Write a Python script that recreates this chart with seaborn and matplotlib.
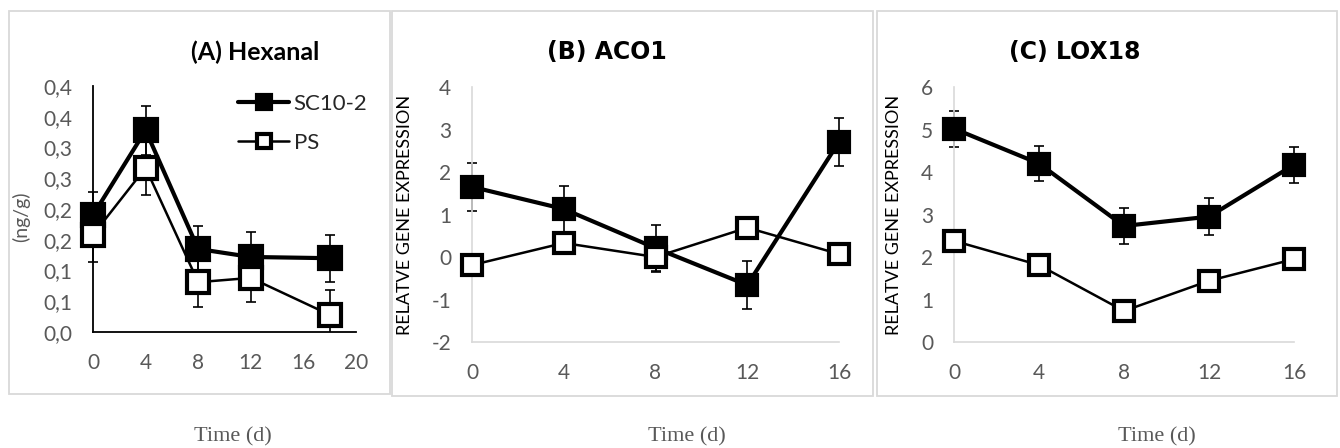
import numpy as np
import pandas as pd
import matplotlib
matplotlib.use("Agg")
import matplotlib.pyplot as plt
import seaborn as sns
from matplotlib.patches import Rectangle

# datos
dias_a = [0, 4, 8, 12, 18]
hex_sc = [0.190, 0.328, 0.135, 0.122, 0.120]
hex_sc_err = [0.038, 0.040, 0.037, 0.040, 0.038]
hex_ps = [0.158, 0.267, 0.081, 0.088, 0.028]
hex_ps_err = [0.044, 0.044, 0.040, 0.040, 0.040]
hex_ticks = ["0,0", "0,1", "0,1", "0,2", "0,2", "0,3", "0,3", "0,4", "0,4"]

dias = [0, 4, 8, 12, 16]
aco_sc = [1.65, 1.13, 0.21, -0.66, 2.71]
aco_sc_err = [0.56, 0.54, 0.55, 0.56, 0.57]
aco_ps = [-0.19, 0.33, 0.0, 0.69, 0.07]
aco_ps_err = [0.2, 0.2, 0.35, 0.2, 0.2]

lox_sc = [5.02, 4.20, 2.73, 2.95, 4.17]
lox_sc_err = [0.42, 0.42, 0.42, 0.43, 0.42]
lox_ps = [2.38, 1.81, 0.73, 1.44, 1.95]
lox_ps_err = [0.2, 0.2, 0.2, 0.2, 0.2]

sns.set_theme(style="white")
plt.rcParams['font.family'] = ['Lato', 'DejaVu Sans']
plt.rcParams['axes.unicode_minus'] = False

W, H = 1340, 448
fig = plt.figure(figsize=(W / 100, H / 100), dpi=100)
gris = "#595959"


def caja(x0, y0, x1, y1):
    fig.patches.append(Rectangle((x0 / W, 1 - y1 / H), (x1 - x0) / W, (y1 - y0) / H,
                                 transform=fig.transFigure, fill=False,
                                 ec="#d9d9d9", lw=1.3))


def ejes(x0, y0, x1, y1):
    return fig.add_axes([x0 / W, 1 - y1 / H, (x1 - x0) / W, (y1 - y0) / H])


def dibujar(ax, x, sc, sc_err, ps, ps_err, ms, xlim, ylim):
    ax.set_xlim(*xlim)
    ax.set_ylim(*ylim)
    # recorte solo por abajo/arriba del area, como en Excel
    ancho = xlim[1] - xlim[0]
    recorte = Rectangle((xlim[0] - ancho, ylim[0]), 3 * ancho, ylim[1] - ylim[0],
                        transform=ax.transData, visible=False)
    ax.add_patch(recorte)
    for v, e in [(sc, sc_err), (ps, ps_err)]:
        barras = ax.errorbar(x, v, yerr=e, fmt="none", ecolor="black", elinewidth=1.2,
                             capsize=3.6, capthick=1.2, zorder=1)
        for art in list(barras.lines[1]) + list(barras.lines[2]):
            art.set_clip_path(recorte)
    sns.lineplot(x=x, y=sc, ax=ax, color="black", lw=3, marker="s", markersize=ms,
                 markerfacecolor="black", markeredgecolor="black", markeredgewidth=3,
                 label="SC10-2", zorder=3, clip_on=False)
    sns.lineplot(x=x, y=ps, ax=ax, color="black", lw=1.8, marker="s", markersize=ms,
                 markerfacecolor="white", markeredgecolor="black", markeredgewidth=3,
                 label="PS", zorder=4, clip_on=False)
    ax.set_xlim(*xlim)
    ax.set_ylim(*ylim)
    ax.tick_params(axis="both", length=0, labelsize=15, labelcolor=gris, pad=15)
    for s in ["top", "right"]:
        ax.spines[s].set_visible(False)
    ax.set_xlabel("")


caja(9, 11, 390, 394)
caja(392, 11, 873, 396)
caja(877, 11, 1337, 396)

# (A) Hexanal
ax1 = ejes(93, 86, 356, 332)
dibujar(ax1, dias_a, hex_sc, hex_sc_err, hex_ps, hex_ps_err, 16.5, (0, 20), (0, 0.4))
ax1.set_xticks([0, 4, 8, 12, 16, 20])
ax1.set_yticks(np.linspace(0, 0.4, 9))
ax1.set_yticklabels(hex_ticks)
for s in ["left", "bottom"]:
    ax1.spines[s].set_color("black")
    ax1.spines[s].set_linewidth(1.3)
ax1.set_ylabel("(ng/g)", fontsize=14, color=gris)
ax1.yaxis.set_label_coords(-0.24, 0.47)
ax1.legend(loc="upper left", bbox_to_anchor=(238 / W, 1 - 94 / H),
           bbox_transform=fig.transFigure, frameon=False, fontsize=16,
           handlelength=2.3, handletextpad=0.2, labelspacing=0.85,
           borderpad=0, borderaxespad=0, markerscale=0.6)

# (B) ACO1
ax2 = ejes(472, 87, 839, 342)
dibujar(ax2, dias, aco_sc, aco_sc_err, aco_ps, aco_ps_err, 15, (0, 16), (-2, 4))
ax2.set_xticks(dias)
ax2.set_yticks(range(-2, 5))
ax2.get_legend().remove()
ax2.set_ylabel("RELATVE GENE EXPRESSION", fontsize=13, color="black")
ax2.yaxis.set_label_coords(-0.16, 0.5)

# (C) LOX18
ax3 = ejes(954, 87, 1294, 342)
dibujar(ax3, dias, lox_sc, lox_sc_err, lox_ps, lox_ps_err, 15, (0, 16), (0, 6))
ax3.set_xticks(dias)
ax3.set_yticks(range(0, 7))
ax3.get_legend().remove()
ax3.set_ylabel("RELATVE GENE EXPRESSION", fontsize=13, color="black")
ax3.yaxis.set_label_coords(-0.153, 0.5)

for ax in [ax2, ax3]:
    for s in ["left", "bottom"]:
        ax.spines[s].set_color("#d9d9d9")
        ax.spines[s].set_linewidth(1.2)

fig.text(255 / W, 1 - 52 / H, "(A) Hexanal", ha="center", va="center",
         fontsize=18, fontweight="bold", color="black")
fig.text(607 / W, 1 - 52 / H, "(B) ACO1", ha="center", va="center",
         fontsize=17, fontweight="bold", color="black", family="DejaVu Sans")
fig.text(1075 / W, 1 - 52 / H, "(C) LOX18", ha="center", va="center",
         fontsize=17, fontweight="bold", color="black", family="DejaVu Sans")

for xc in [233, 687, 1157]:
    fig.text(xc / W, 1 - 437 / H, "Time (d)", ha="center", va="center",
             fontsize=16, color=gris, family="Liberation Serif")

fig.savefig("out.png", dpi=100)
